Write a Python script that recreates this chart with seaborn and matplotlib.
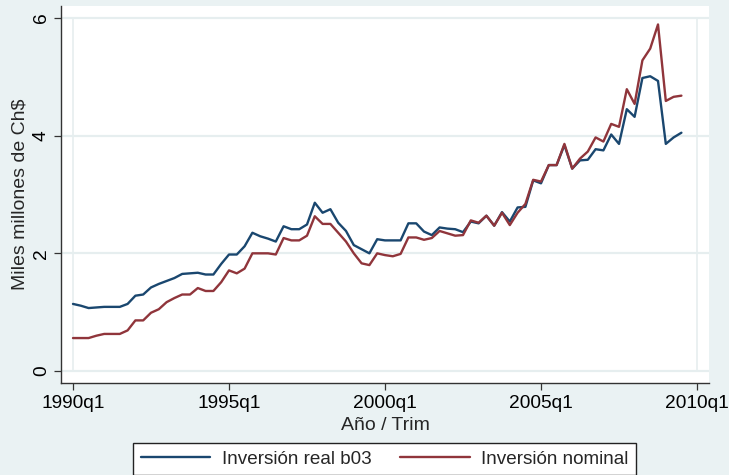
import numpy as np
import pandas as pd
import matplotlib
matplotlib.use("Agg")
import matplotlib.pyplot as plt
import seaborn as sns
from matplotlib.lines import Line2D

# ---- data (quarterly, 1990q1 .. 2009q3) ----
start_year = 1990
real_b03 = [1.14, 1.11, 1.07, 1.08, 1.09, 1.09, 1.09, 1.14, 1.28, 1.30,
            1.42, 1.48, 1.53, 1.58, 1.65, 1.66, 1.67, 1.64, 1.64, 1.82,
            1.98, 1.98, 2.12, 2.35, 2.29, 2.25, 2.20, 2.46, 2.41, 2.41,
            2.49, 2.86, 2.69, 2.75, 2.52, 2.38, 2.14, 2.07, 2.00, 2.24,
            2.22, 2.22, 2.22, 2.51, 2.51, 2.37, 2.31, 2.44, 2.42, 2.41,
            2.36, 2.54, 2.51, 2.64, 2.47, 2.70, 2.54, 2.78, 2.79, 3.24,
            3.19, 3.50, 3.50, 3.84, 3.44, 3.58, 3.59, 3.77, 3.75, 4.02,
            3.86, 4.45, 4.32, 4.98, 5.01, 4.93, 3.86, 3.97, 4.05]
nominal = [0.56, 0.56, 0.56, 0.60, 0.63, 0.63, 0.63, 0.69, 0.86, 0.86,
           0.99, 1.05, 1.17, 1.24, 1.30, 1.30, 1.41, 1.36, 1.36, 1.51,
           1.71, 1.66, 1.74, 2.00, 2.00, 2.00, 1.98, 2.26, 2.22, 2.22,
           2.30, 2.63, 2.50, 2.50, 2.35, 2.20, 2.00, 1.83, 1.80, 2.00,
           1.97, 1.95, 1.99, 2.27, 2.27, 2.23, 2.26, 2.38, 2.34, 2.30,
           2.31, 2.56, 2.52, 2.64, 2.47, 2.69, 2.48, 2.69, 2.84, 3.25,
           3.22, 3.50, 3.50, 3.86, 3.44, 3.61, 3.73, 3.97, 3.90, 4.20,
           4.15, 4.79, 4.54, 5.28, 5.48, 5.89, 4.59, 4.66, 4.68]
series_names = ["Inversión real b03", "Inversión nominal"]
x_tick_pos = [0, 20, 40, 60, 80]
x_tick_labels = ["1990q1", "1995q1", "2000q1", "2005q1", "2010q1"]
y_ticks = [0, 2, 4, 6]
x_title = "Año / Trim"
y_title = "Miles millones de Ch$"

quarter_idx = np.arange(len(real_b03))
df = pd.DataFrame({
    "q": np.concatenate([quarter_idx, quarter_idx]),
    "valor": real_b03 + nominal,
    "serie": [series_names[0]] * len(real_b03) + [series_names[1]] * len(nominal),
})

# ---- style ----
sns.set_theme(style="white")
plt.rcParams["font.family"] = ["Liberation Sans", "DejaVu Sans"]

BG = "#EAF2F3"
GRID = "#E6EEEF"
BLUE = "#1A476F"
RED = "#90353B"
W, H = 729, 475

fig = plt.figure(figsize=(W / 100, H / 100), dpi=100, facecolor=BG)
ax = fig.add_axes([61 / W, 1 - 383 / H, (709 - 61) / W, (383 - 6) / H])
ax.set_facecolor("white")

# grid lines (Stata style)
for yv in y_ticks:
    ax.axhline(yv, color=GRID, lw=1.6, zorder=0)
for xv in (x_tick_pos[0], x_tick_pos[-1]):
    ax.plot([xv, xv], [0, 6], color=GRID, lw=1.2, zorder=0)

sns.lineplot(data=df, x="q", y="valor", hue="serie", palette=[BLUE, RED],
             linewidth=1.7, ax=ax, legend=False, zorder=3)

ppq = 7.805  # px per quarter
ax.set_xlim(-(73 - 61) / ppq, 80 + (709 - 697) / ppq)
ppu = (371 - 18) / 6.0
ax.set_ylim(-(383 - 371) / ppu, 6 + (18 - 6) / ppu)

ax.set_xticks(x_tick_pos)
ax.set_xticklabels(x_tick_labels)
ax.set_yticks(y_ticks)
ax.set_yticklabels([str(v) for v in y_ticks], rotation=90, va="center")

for s in ("top", "right"):
    ax.spines[s].set_visible(False)
for s in ("left", "bottom"):
    ax.spines[s].set_color("#333333")
    ax.spines[s].set_linewidth(1.0)

ax.tick_params(axis="both", which="major", direction="out", length=5,
               width=0.9, color="#333333", labelsize=13.8, labelcolor="black",
               left=True, bottom=True)
ax.tick_params(axis="x", pad=4)
ax.tick_params(axis="y", pad=3)

ax.set_xlabel(x_title, fontsize=14, labelpad=3)
ax.set_ylabel(y_title, fontsize=14, labelpad=3)

# legend
handles = [Line2D([0], [0], color=BLUE, lw=1.7), Line2D([0], [0], color=RED, lw=1.7)]
leg = fig.legend(handles, series_names, loc="upper center",
                 bbox_to_anchor=(384.5 / W, 1 - 443 / H), bbox_transform=fig.transFigure,
                 ncol=2, frameon=True, fancybox=False, framealpha=1,
                 fontsize=13.6, handlelength=3.7, handletextpad=0.6,
                 columnspacing=1.5, borderpad=0.4, borderaxespad=0)
leg.get_frame().set_edgecolor("#222222")
leg.get_frame().set_linewidth(1.0)
leg.get_frame().set_facecolor("white")

fig.savefig("out.png", dpi=100, facecolor=BG)
